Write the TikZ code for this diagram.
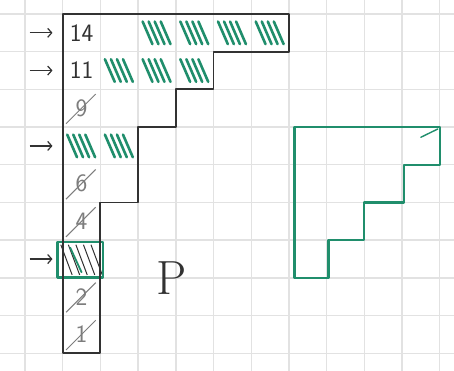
\documentclass[tikz,border=0pt]{standalone}
\usepackage{tikz}
\usetikzlibrary{arrows.meta}

\definecolor{inkgreen}{RGB}{32,142,108}
\definecolor{ink}{RGB}{50,50,50}
\definecolor{pencil}{RGB}{125,125,125}
\definecolor{paperline}{RGB}{226,226,226}

\begin{document}
\begin{tikzpicture}[
    x=37.7pt, y=-37.7pt,
    sheet/.style={draw=paperline, line width=1.4pt},
    outline/.style={draw=ink, line width=1.8pt, line join=round},
    cell/.style={minimum width=37.7pt, minimum height=37.7pt, inner sep=0pt, text=ink, font=\sffamily\fontsize{25}{25}\selectfont},
    gone/.style={cell, text=pencil},
    slash/.style={draw=pencil, line width=1pt, shorten <=5pt, shorten >=7pt},
    hatch/.style={draw=inkgreen, line width=2.6pt, line cap=round},
    pointer/.style={draw=ink, line width=1.2pt, shorten >=10pt, -{Straight Barb[length=4pt,width=9pt]}},
    greenline/.style={draw=inkgreen, line width=2.2pt, line join=round, line cap=round}
]
    % Paper
    \fill[white] (-0.663,-0.371) rectangle (11.379,9.469);
    \useasboundingbox (-0.663,-0.371) rectangle (11.379,9.469);
    \foreach \i in {0,...,11}
        \draw[sheet] (\i,-0.371) -- (\i,9.469);
    \foreach \j in {0,...,9}
        \draw[sheet] (-0.663,\j) -- (11.379,\j);

    % Hatched cells
    \foreach \cx/\cy in {3/0,4/0,5/0,6/0,2/1,3/1,4/1,1/3,2/3}
        \foreach \k in {0,...,3}
            \draw[hatch] ({\cx+0.12+0.16*\k},{\cy+0.2}) -- ({\cx+0.38+0.16*\k},{\cy+0.8});

    % Marked cell
    \foreach \k in {0,...,4}
        \draw[ink, line width=1pt] ({0.95+0.2*\k},6.12) -- ({1.25+0.2*\k},6.92);
    \draw[inkgreen, line width=1.8pt, line cap=round] (1.2,6.2) -- (1.5,6.85);
    \draw[greenline, line width=2.8pt] (0.87,6.05) rectangle (2.07,7.0);

    % Column entries
    \node[cell] (n14) at (1.5,0.5) {14};
    \node[cell] (n11) at (1.5,1.5) {11};
    \node[gone] (n9) at (1.5,2.5) {9};
    \node[cell] (mark3) at (1.5,3.5) {};
    \node[gone] (n6) at (1.5,4.5) {6};
    \node[gone] (n4) at (1.5,5.5) {4};
    \node[cell] (mark6) at (1.5,6.5) {};
    \node[gone] (n2) at (1.5,7.5) {2};
    \node[gone] (n1) at (1.5,8.5) {1};
    \foreach \n in {n9,n6,n4,n2,n1}
        \draw[slash] (\n.south west) -- (\n.north east);

    % Staircase
    \draw[outline] (1,0) -- (7,0) -- (7,1) -- (5,1) -- (5,2) -- (4,2) -- (4,3)
        -- (3,3) -- (3,5) -- (2,5) -- (2,9) -- (1,9) -- cycle;

    % Pointers
    \coordinate (t14) at (0.12,0.5);
    \coordinate (t11) at (0.12,1.5);
    \coordinate (t3) at (0.12,3.5);
    \coordinate (t6) at (0.12,6.5);
    \draw[pointer] (t14) -- (n14);
    \draw[pointer] (t11) -- (n11);
    \draw[pointer] (t3) -- (mark3);
    \draw[pointer] (t6) -- (mark6);

    \node[text=ink, font=\fontsize{48}{48}\selectfont] (pname) at (3.88,7.0) {P};

    % Green shape
    \draw[greenline] (7.15,3) -- (11,3) -- (11,4) -- (10.05,4) -- (10.05,5) -- (9,5)
        -- (9,6) -- (8.05,6) -- (8.05,7) -- (7.15,7) -- cycle;
    \draw[greenline, line width=1.4pt] (10.5,3.27) -- (10.95,3.05);
\end{tikzpicture}
\end{document}
